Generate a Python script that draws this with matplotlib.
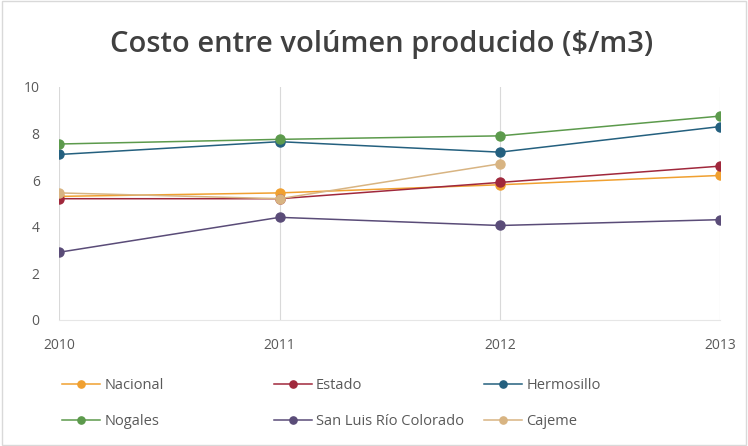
import matplotlib.pyplot as plt

# datos
years = [2010, 2011, 2012, 2013]
nacional = [5.3, 5.45, 5.8, 6.2]
estado = [5.2, 5.2, 5.9, 6.6]
hermosillo = [7.1, 7.65, 7.2, 8.3]
nogales = [7.55, 7.75, 7.9, 8.75]
slrc = [2.9, 4.4, 4.05, 4.3]
cajeme = [5.45, 5.2, 6.7]

series = [
    ("Nacional", years, nacional, "#F0A030"),
    ("Estado", years, estado, "#A0283C"),
    ("Hermosillo", years, hermosillo, "#24607F"),
    ("Nogales", years, nogales, "#5C9A4C"),
    ("San Luis Río Colorado", years, slrc, "#5A4C78"),
    ("Cajeme", years[:3], cajeme, "#D8B482"),
]

plt.rcParams['font.family'] = ['Open Sans', 'DejaVu Sans']

fig = plt.figure(figsize=(7.48, 4.46), dpi=100)
ax = fig.add_axes([0.079, 0.283, 0.884, 0.522])

lines = []
for name, x, y, c in series:
    ln, = ax.plot(x, y, color=c, lw=1.1, marker="o", ms=6.5, label=name)
    lines.append(ln)

ax.set_xlim(2010, 2013)
ax.set_ylim(0, 10)
ax.set_xticks(years)
ax.set_yticks(range(0, 11, 2))
ax.tick_params(length=0, labelsize=10, colors="#595959")
ax.tick_params(axis="x", pad=13)
ax.tick_params(axis="y", pad=14)
ax.grid(axis="x", color="#D9D9D9", lw=0.8)
for s in ["top", "right", "left"]:
    ax.spines[s].set_visible(False)
ax.spines["bottom"].set_color("#E6E6E6")

fig.text(0.51, 0.9, "Costo entre volúmen producido ($/m3)", ha="center",
         va="center", fontsize=21, fontweight="semibold", color="#404040")

# leyenda en tres columnas de ancho fijo, como en Excel
col_x = [0.083, 0.366, 0.647]
for i, x0 in enumerate(col_x):
    leg = fig.legend(handles=[lines[i], lines[i + 3]], loc="upper left",
                     bbox_to_anchor=(x0, 0.152), frameon=False, fontsize=10.5,
                     handlelength=2.6, handletextpad=0.3, labelspacing=1.4,
                     markerscale=0.8, labelcolor="#595959",
                     borderaxespad=0, borderpad=0)

# borde del gráfico
fig.patches.append(plt.Rectangle((0.003, 0.003), 0.994, 0.994, transform=fig.transFigure,
                                 fill=False, edgecolor="#D9D9D9", lw=1))

fig.savefig("out.png", dpi=100)
